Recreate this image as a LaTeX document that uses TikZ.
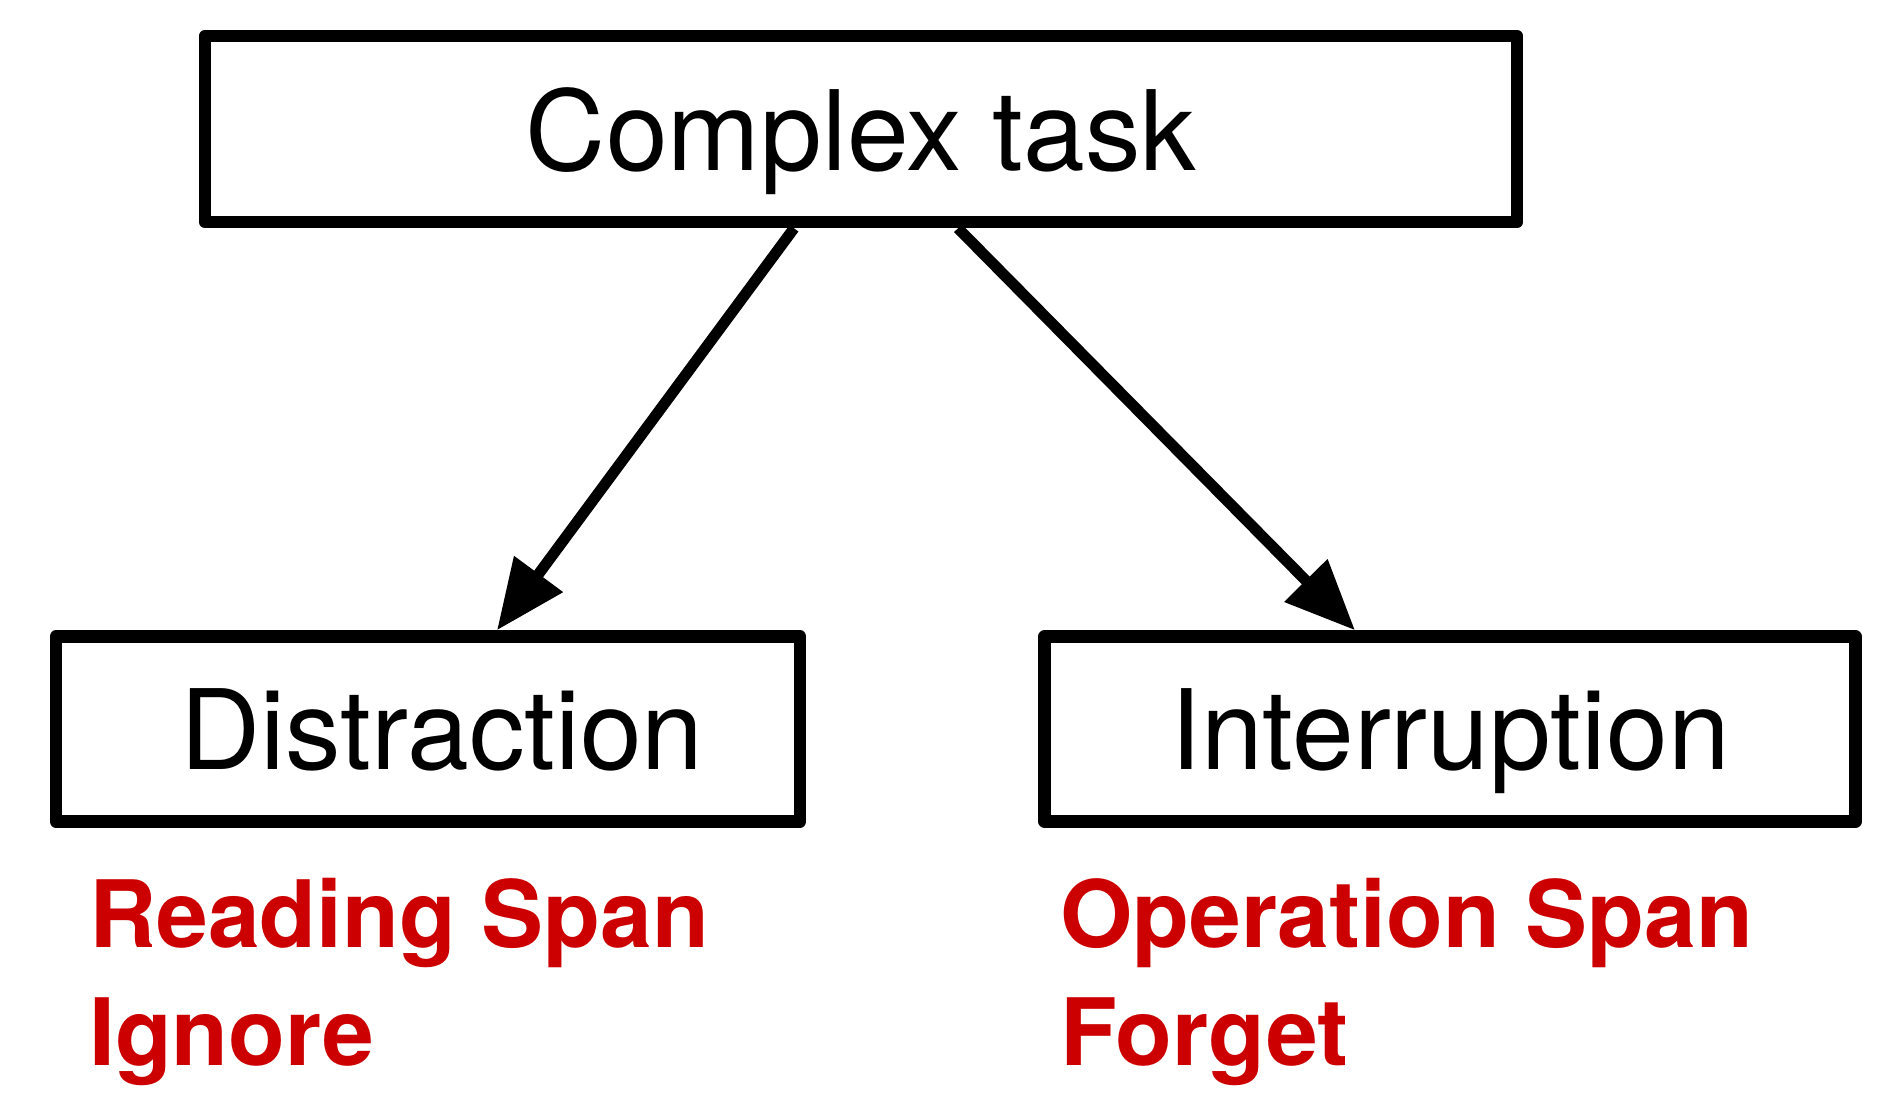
\documentclass[tikz,border=0pt]{standalone}
\usepackage{fontspec}
\setmainfont{TeX Gyre Heros}
\usetikzlibrary{arrows.meta}
\definecolor{redtxt}{HTML}{CC0000}
\tikzset{
  box/.style={draw=black, line width=12.5pt, line join=round, rectangle, inner sep=0pt,
              text depth=0pt, font=\fontsize{111}{130}\selectfont},
  arr/.style={draw=black, line width=11pt, -{Triangle[length=70pt,width=58pt]}},
  redlbl/.style={text=redtxt, inner sep=0pt, anchor=base west,
                 font=\fontsize{93}{118}\selectfont\bfseries}
}
\begin{document}
\begin{tikzpicture}[x=1pt,y=-1pt]
\useasboundingbox[fill=white] (0,0) rectangle (1894,1112);
\node[box, minimum width=1312pt, minimum height=186pt] (top) at (861,129) {Complex task};
\node[box, minimum width=744pt, minimum height=185pt] (dis) at (428,729) {\hspace*{28pt}Distraction};
\node[box, minimum width=811pt, minimum height=185pt] (int) at (1450,729) {Interruption};
\draw[arr] ([xshift=-67pt]top.south) -- ([xshift=69pt]dis.north);
\draw[arr] ([xshift=97pt]top.south) -- ([xshift=-95pt]int.north);
\node[redlbl] (rs) at (89,947) {Reading Span};
\node[redlbl] (ig) at (89,1065) {Ignore};
\node[redlbl] (os) at (1060,947) {Operation Span};
\node[redlbl] (fg) at (1060,1065) {Forget};
\end{tikzpicture}
\end{document}
